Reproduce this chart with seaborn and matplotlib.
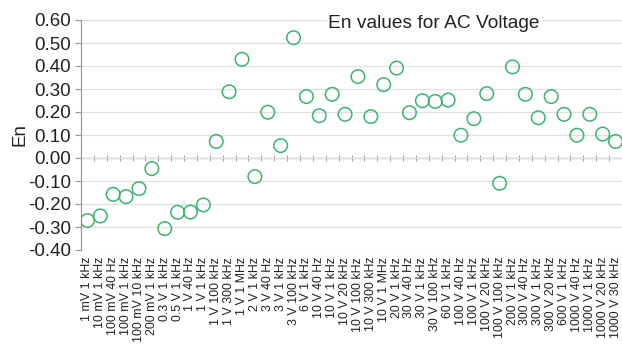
import numpy as np
import pandas as pd
import matplotlib
matplotlib.use("Agg")
import matplotlib.pyplot as plt
import seaborn as sns

# Measurement points (nominal value and frequency)
points = [
    "1 mV 1 kHz", "10 mV 1 kHz", "100 mV 40 Hz", "100 mV 1 kHz", "100 mV 10 kHz",
    "200 mV 1 kHz", "0.3 V 1 kHz", "0.5 V 1 kHz", "1 V 40 Hz", "1 V 1 kHz",
    "1 V 100 kHz", "1 V 300 kHz", "1 V 1 MHz", "2 V 1 kHz", "3 V 40 Hz",
    "3 V 1 kHz", "3 V 100 kHz", "6 V 1 kHz", "10 V 40 Hz", "10 V 1 kHz",
    "10 V 20 kHz", "10 V 100 kHz", "10 V 300 kHz", "10 V 1 MHz", "20 V 1 kHz",
    "30 V 40 Hz", "30 V 1 kHz", "30 V 100 kHz", "60 V 1 kHz", "100 V 40 Hz",
    "100 V 1 kHz", "100 V 20 kHz", "100 V 100 kHz", "200 V 1 kHz", "300 V 40 Hz",
    "300 V 1 kHz", "300 V 20 kHz", "600 V 1 kHz", "1000 V 40 Hz", "1000 V 1 kHz",
    "1000 V 20 kHz", "1000 V 30 kHz",
]

# En numbers for each point
en_values = [
    -0.272, -0.252, -0.158, -0.168, -0.133, -0.046, -0.307, -0.236, -0.235, -0.204,
    0.072, 0.288, 0.429, -0.081, 0.199, 0.054, 0.523, 0.267, 0.184, 0.277,
    0.190, 0.354, 0.180, 0.319, 0.391, 0.197, 0.249, 0.246, 0.252, 0.099,
    0.171, 0.280, -0.110, 0.396, 0.277, 0.175, 0.267, 0.190, 0.099, 0.190,
    0.104, 0.072,
]

y_ticks = [0.60, 0.50, 0.40, 0.30, 0.20, 0.10, 0.00, -0.10, -0.20, -0.30, -0.40]

df = pd.DataFrame({"point": points, "En": en_values})

sns.set_style("white")
plt.rcParams["font.family"] = ["Liberation Sans", "DejaVu Sans"]

fig = plt.figure(figsize=(6.22, 3.49), dpi=100)
ax = fig.add_axes([81 / 622, 99 / 349, 541 / 622, 230 / 349])

sns.scatterplot(
    data=df, x="point", y="En", ax=ax,
    marker="o", s=95, facecolor="none", edgecolor="#3cb371", linewidth=1.1,
    zorder=3, legend=False,
)

n = len(points)
ax.set_xlim(-0.5, n - 0.5)
ax.set_ylim(min(y_ticks), max(y_ticks))
ax.set_yticks(y_ticks)
ax.set_yticklabels([f"{v:.2f}" for v in y_ticks], fontsize=13.5, color="#222222")
ax.grid(axis="y", color="#e0e0e0", linewidth=0.9)
ax.grid(axis="x", visible=False)
ax.set_axisbelow(True)

ax.set_xticks(range(n))
ax.set_xticklabels(points, rotation=90, fontsize=8.9, color="#222222", va="top", ha="center")
ax.tick_params(axis="x", length=0, pad=5)
ax.tick_params(axis="y", length=4, width=0.8, color="#999999", pad=3, direction="out", left=True)

for side in ("top", "right", "bottom"):
    ax.spines[side].set_visible(False)
ax.spines["left"].set_color("#999999")
ax.spines["left"].set_linewidth(0.9)

# Category axis drawn across the zero level, with ticks between categories
zero_frac = (0 - min(y_ticks)) / (max(y_ticks) - min(y_ticks))
sec = ax.secondary_xaxis(zero_frac)
sec.set_xticks(np.arange(-0.5, n, 1.0))
sec.set_xticklabels([])
sec.tick_params(axis="x", direction="inout", length=4, width=0.7, color="#999999")
sec.spines["bottom"].set_color("#999999")
sec.spines["bottom"].set_linewidth(0.9)
sec.spines["top"].set_visible(False)

ax.set_xlabel("")
ax.set_ylabel("En", fontsize=13.5, color="#222222", labelpad=0)

ax.text(0.652, 0.985, "En values for AC Voltage", transform=ax.transAxes,
        ha="center", va="center", fontsize=13.8, color="#222222",
        bbox=dict(facecolor="white", edgecolor="none", pad=1), zorder=4)

fig.savefig("out.png", dpi=100)
